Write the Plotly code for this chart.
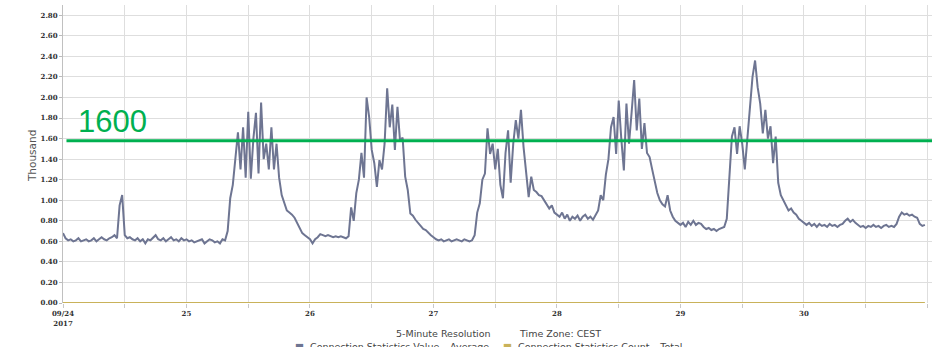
import pandas as pd
import plotly.graph_objects as go

# Connection Statistics Value - Average (thousand), half-hour readings per day
day24 = [0.68, 0.63, 0.61, 0.62, 0.60, 0.61, 0.63, 0.60, 0.61, 0.62, 0.60, 0.61, 0.63, 0.60, 0.62, 0.64,
         0.62, 0.61, 0.63, 0.64, 0.66, 0.63, 0.95, 1.05, 0.66, 0.63, 0.64, 0.62, 0.61, 0.63, 0.60, 0.62,
         0.58, 0.62, 0.61, 0.64, 0.66, 0.62, 0.61, 0.63, 0.60, 0.62, 0.64, 0.61, 0.62, 0.60, 0.63, 0.61]
day25 = [0.62, 0.60, 0.61, 0.59, 0.60, 0.61, 0.62, 0.58, 0.60, 0.62, 0.61, 0.59, 0.60, 0.58, 0.62, 0.61,
         0.70, 1.02, 1.15, 1.40, 1.66, 1.30, 1.71, 1.22, 1.86, 1.21, 1.60, 1.85, 1.26, 1.95, 1.40, 1.55,
         1.30, 1.71, 1.30, 1.55, 1.22, 1.05, 0.98, 0.90, 0.88, 0.86, 0.83, 0.78, 0.72, 0.68, 0.66, 0.64]
day26 = [0.62, 0.58, 0.62, 0.64, 0.67, 0.66, 0.65, 0.66, 0.65, 0.64, 0.65, 0.64, 0.65, 0.64, 0.63, 0.65,
         0.93, 0.80, 1.07, 1.20, 1.46, 1.22, 2.00, 1.81, 1.49, 1.36, 1.13, 1.39, 1.30, 1.55, 2.09, 1.71,
         1.93, 1.49, 1.91, 1.58, 1.61, 1.23, 1.10, 0.87, 0.85, 0.81, 0.78, 0.74, 0.72, 0.71, 0.68, 0.66]
day27 = [0.64, 0.62, 0.61, 0.62, 0.60, 0.61, 0.62, 0.60, 0.61, 0.62, 0.61, 0.60, 0.62, 0.61, 0.60, 0.61,
         0.66, 0.88, 0.97, 1.20, 1.26, 1.70, 1.45, 1.55, 1.30, 1.50, 1.15, 1.02, 1.46, 1.68, 1.17, 1.55,
         1.78, 1.60, 1.88, 1.52, 1.29, 1.03, 1.23, 1.10, 1.08, 1.05, 1.04, 1.00, 0.97, 0.92, 0.95, 0.88]
day28 = [0.86, 0.84, 0.88, 0.82, 0.86, 0.80, 0.84, 0.82, 0.85, 0.80, 0.84, 0.86, 0.82, 0.84, 0.81, 0.85,
         0.90, 1.05, 1.00, 1.25, 1.40, 1.71, 1.81, 1.45, 1.97, 1.60, 1.29, 1.94, 1.55, 1.85, 2.17, 1.68,
         1.99, 1.50, 1.75, 1.46, 1.42, 1.30, 1.20, 1.07, 1.00, 0.96, 0.94, 1.05, 0.90, 0.84, 0.80, 0.78]
day29 = [0.76, 0.78, 0.74, 0.79, 0.76, 0.80, 0.76, 0.78, 0.77, 0.74, 0.72, 0.73, 0.71, 0.72, 0.70, 0.72,
         0.73, 0.74, 0.82, 1.25, 1.62, 1.71, 1.45, 1.72, 1.55, 1.30, 1.60, 1.97, 2.20, 2.36, 2.10, 1.94,
         1.65, 1.88, 1.60, 1.72, 1.36, 1.62, 1.17, 1.05, 1.00, 0.95, 0.90, 0.92, 0.88, 0.86, 0.82, 0.80]
day30 = [0.78, 0.76, 0.78, 0.75, 0.77, 0.74, 0.77, 0.75, 0.76, 0.74, 0.77, 0.75, 0.76, 0.74, 0.76, 0.77,
         0.80, 0.82, 0.79, 0.81, 0.78, 0.76, 0.74, 0.75, 0.73, 0.75, 0.74, 0.76, 0.74, 0.75, 0.73, 0.75,
         0.76, 0.74, 0.75, 0.74, 0.77, 0.84, 0.88, 0.86, 0.87, 0.85, 0.86, 0.84, 0.83, 0.77, 0.75, 0.76]

value_average = day24 + day25 + day26 + day27 + day28 + day29 + day30
count_total = [0.0] * len(value_average)
timestamps = pd.date_range("2017-09-24 00:00", periods=len(value_average), freq="30min")

tick_days = ["2017-09-24", "2017-09-25", "2017-09-26", "2017-09-27", "2017-09-28", "2017-09-29", "2017-09-30"]
tick_text = ["09/24<br>2017", "25", "26", "27", "28", "29", "30"]
threshold = 1.58
threshold_label = "1600"

LINE = "#6e7592"
GOLD = "#c9b25a"
GREEN = "#00b050"
GRID = "#dedede"

fig = go.Figure()
fig.add_trace(go.Scatter(x=timestamps, y=value_average, mode="lines",
                         line=dict(color=LINE, width=2), name="Connection Statistics Value – Average"))
fig.add_trace(go.Scatter(x=timestamps, y=count_total, mode="lines",
                         line=dict(color=GOLD, width=2), name="Connection Statistics Count – Total",
                         cliponaxis=False))

tick_font = dict(family="DejaVu Serif", size=7, color="#333333", weight="bold")

fig.update_layout(
    width=932, height=347,
    margin=dict(l=63, r=0, t=5, b=44),
    paper_bgcolor="white", plot_bgcolor="white",
    showlegend=False,
    xaxis=dict(
        type="date",
        range=["2017-09-24 00:00", "2017-10-01 00:53"],
        tickvals=tick_days, ticktext=tick_text,
        tickfont=tick_font,
        showgrid=True, gridcolor=GRID, gridwidth=1,
        ticks="outside", ticklen=4, tickcolor="#c8c8c8",
        minor=dict(dtick=43200000, tick0="2017-09-24", showgrid=True, gridcolor=GRID,
                   ticks="outside", ticklen=4, tickcolor="#c8c8c8"),
        showline=False, zeroline=False,
    ),
    yaxis=dict(
        range=[0, 2.9],
        dtick=0.2, tick0=0, tickformat=".2f",
        tickfont=tick_font,
        showgrid=True, gridcolor=GRID, gridwidth=1,
        ticks="outside", ticklen=3, tickcolor="#bbbbbb",
        showline=True, linecolor="#c0c0c0", linewidth=1,
        zeroline=False,
    ),
)

fig.add_shape(type="line", xref="paper", yref="y", x0=0.004, x1=1, y0=threshold, y1=threshold,
              line=dict(color=GREEN, width=3))

fig.add_annotation(text=threshold_label, xref="paper", yref="y", x=0.0144, y=threshold,
                   xanchor="left", yanchor="bottom", showarrow=False,
                   font=dict(family="Liberation Sans", size=31, color=GREEN))

fig.add_annotation(text="Thousand", xref="paper", yref="paper", x=-0.0357, y=0.493,
                   textangle=-90, showarrow=False, xanchor="center", yanchor="middle",
                   font=dict(family="DejaVu Sans", size=10.5, color="#555555"))

fig.add_annotation(text="5-Minute Resolution", xref="paper", yref="paper", x=(394 - 63) / 869,
                   y=(303 - 333) / 298, xanchor="left", yanchor="middle", showarrow=False,
                   font=dict(family="DejaVu Sans", size=9.5, color="#444444"))
fig.add_annotation(text="Time Zone: CEST", xref="paper", yref="paper", x=(517 - 63) / 869,
                   y=(303 - 333) / 298, xanchor="left", yanchor="middle", showarrow=False,
                   font=dict(family="DejaVu Sans", size=9.5, color="#444444"))

fig.add_annotation(text=f"<span style='color:{LINE}'>■</span>  Connection Statistics Value – Average",
                   xref="paper", yref="paper", x=(293 - 63) / 869, y=(303 - 339) / 298,
                   xanchor="left", yanchor="top", showarrow=False,
                   font=dict(family="DejaVu Sans", size=9.5, color="#444444"))
fig.add_annotation(text=f"<span style='color:{GOLD}'>■</span>  Connection Statistics Count – Total",
                   xref="paper", yref="paper", x=(501 - 63) / 869, y=(303 - 339) / 298,
                   xanchor="left", yanchor="top", showarrow=False,
                   font=dict(family="DejaVu Sans", size=9.5, color="#444444"))

fig.write_html("out.html", config={"displayModeBar": False},
               post_script="document.body.style.margin='0';document.body.style.overflow='hidden';")
